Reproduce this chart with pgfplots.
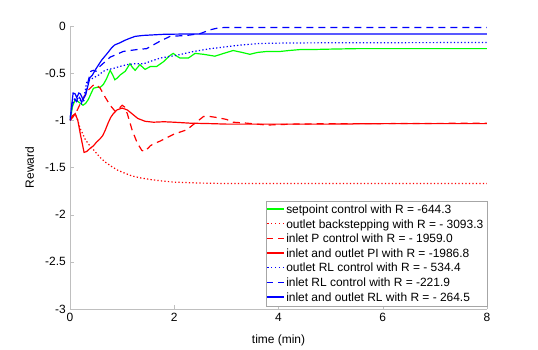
\documentclass[border=0pt]{standalone}
\usepackage{pgfplots}
\pgfplotsset{compat=1.18}
\usepackage{fontspec}
\setmainfont{Liberation Sans}
\definecolor{mgreen}{rgb}{0,1,0}
\definecolor{mred}{rgb}{1,0,0}
\definecolor{mblue}{rgb}{0,0,1}
\newcommand{\lsolid}[1]{\textcolor{#1}{\rule{17bp}{1.2pt}}}
\newcommand{\ldash}[1]{\textcolor{#1}{\rule{6bp}{1.2pt}\hspace{5bp}\rule{6bp}{1.2pt}}}
\newcommand{\ldot}[1]{\textcolor{#1}{\rule{1.3bp}{1.2pt}\hspace{2.6bp}\rule{1.3bp}{1.2pt}\hspace{2.6bp}\rule{1.3bp}{1.2pt}\hspace{2.6bp}\rule{1.3bp}{1.2pt}\hspace{2.6bp}\rule{1.3bp}{1.2pt}}}
\begin{document}
\fontsize{12}{14}\selectfont
\begin{tikzpicture}
\path (-70bp,-39bp) rectangle (468bp,309bp);
\begin{axis}[
  scale only axis, width=417bp, height=283bp,
  at={(0,0)}, anchor=south west,
  xmin=0, xmax=8, ymin=-3, ymax=0,
  xtick={0,2,4,6,8}, ytick={-3,-2.5,-2,-1.5,-1,-0.5,0},
  axis lines=left, axis line style={-, draw=black!25, line width=0.6pt},
  tick style={draw=black!25}, tick align=inside, major tick length=4bp,
  /pgf/number format/assume math mode=true,
  xlabel={time (min)}, ylabel={Reward},
  xlabel style={yshift=-5bp},
  ylabel style={yshift=3bp},
  legend cell align=left,
  legend style={at={(1,0.008)}, anchor=south east,
    draw=black!35, inner sep=1.5bp, row sep=0.2bp},
]
\addlegendimage{legend image code/.code={\node[inner sep=0pt,anchor=west] at (0bp,0bp) {\lsolid{mgreen}};}}
\addlegendentry{setpoint control with R = -644.3}
\addlegendimage{legend image code/.code={\node[inner sep=0pt,anchor=west] at (0bp,0bp) {\ldot{mred}};}}
\addlegendentry{outlet backstepping with R = - 3093.3}
\addlegendimage{legend image code/.code={\node[inner sep=0pt,anchor=west] at (0bp,0bp) {\ldash{mred}};}}
\addlegendentry{inlet P control with R = - 1959.0}
\addlegendimage{legend image code/.code={\node[inner sep=0pt,anchor=west] at (0bp,0bp) {\lsolid{mred}};}}
\addlegendentry{inlet and outlet PI with R = -1986.8}
\addlegendimage{legend image code/.code={\node[inner sep=0pt,anchor=west] at (0bp,0bp) {\ldot{mblue}};}}
\addlegendentry{outlet RL control with R = - 534.4}
\addlegendimage{legend image code/.code={\node[inner sep=0pt,anchor=west] at (0bp,0bp) {\ldash{mblue}};}}
\addlegendentry{inlet RL control with R = -221.9}
\addlegendimage{legend image code/.code={\node[inner sep=0pt,anchor=west] at (0bp,0bp) {\lsolid{mblue}};}}
\addlegendentry{inlet and outlet RL with R = - 264.5}
\addplot[forget plot, draw=mgreen, line width=1.2pt] coordinates {(0,-1)(0.05,-0.85)(0.1,-0.78)(0.15,-0.8)(0.2,-0.82)(0.25,-0.84)(0.3,-0.82)(0.35,-0.78)(0.45,-0.66)(0.52,-0.65)(0.58,-0.65)(0.64,-0.62)(0.7,-0.56)(0.77,-0.47)(0.82,-0.52)(0.86,-0.57)(0.91,-0.55)(0.96,-0.52)(1.06,-0.48)(1.15,-0.40)(1.2,-0.44)(1.25,-0.47)(1.34,-0.41)(1.44,-0.46)(1.54,-0.43)(1.66,-0.43)(1.79,-0.38)(1.9,-0.32)(1.98,-0.29)(2.05,-0.32)(2.11,-0.34)(2.27,-0.34)(2.4,-0.29)(2.56,-0.30)(2.78,-0.32)(2.95,-0.29)(3.13,-0.26)(3.3,-0.28)(3.45,-0.30)(3.6,-0.28)(3.78,-0.27)(4.03,-0.27)(4.2,-0.26)(4.41,-0.25)(4.6,-0.25)(5,-0.245)(5.5,-0.24)(6,-0.24)(7,-0.24)(8,-0.24)};
\addplot[forget plot, draw=mred, line width=1.2pt, dash pattern=on 1.3bp off 2.2bp] coordinates {(0,-1)(0.05,-0.96)(0.1,-0.93)(0.15,-1.0)(0.19,-1.08)(0.25,-1.15)(0.29,-1.2)(0.38,-1.27)(0.48,-1.33)(0.57,-1.39)(0.67,-1.44)(0.8,-1.49)(0.92,-1.53)(1.05,-1.56)(1.19,-1.59)(1.35,-1.61)(1.57,-1.63)(1.8,-1.645)(2.0,-1.655)(2.5,-1.665)(3,-1.67)(4,-1.67)(6,-1.67)(8,-1.67)};
\addplot[forget plot, draw=mred, line width=1.2pt, dash pattern=on 7bp off 5bp] coordinates {(0,-1)(0.05,-0.95)(0.1,-0.93)(0.15,-0.88)(0.2,-0.82)(0.28,-0.74)(0.35,-0.68)(0.44,-0.63)(0.5,-0.62)(0.58,-0.66)(0.67,-0.75)(0.77,-0.84)(0.86,-0.9)(0.93,-0.88)(1.0,-0.84)(1.05,-0.86)(1.1,-0.93)(1.19,-1.1)(1.29,-1.24)(1.38,-1.32)(1.44,-1.33)(1.54,-1.27)(1.6,-1.25)(1.73,-1.22)(1.98,-1.15)(2.24,-1.1)(2.4,-1.03)(2.56,-0.96)(2.69,-0.96)(2.82,-0.97)(3.0,-0.99)(3.13,-1.02)(3.39,-1.03)(3.78,-1.05)(4.28,-1.04)(5,-1.035)(6,-1.035)(8,-1.03)};
\addplot[forget plot, draw=mred, line width=1.2pt] coordinates {(0,-1)(0.05,-0.97)(0.1,-0.93)(0.15,-1.0)(0.2,-1.15)(0.27,-1.34)(0.32,-1.33)(0.38,-1.3)(0.45,-1.27)(0.51,-1.23)(0.57,-1.2)(0.63,-1.16)(0.68,-1.1)(0.73,-1.03)(0.78,-0.97)(0.83,-0.93)(0.9,-0.89)(1.0,-0.87)(1.1,-0.89)(1.19,-0.93)(1.3,-0.98)(1.44,-1.01)(1.6,-1.02)(1.8,-1.015)(2.0,-1.02)(2.3,-1.03)(2.7,-1.035)(3,-1.04)(4,-1.04)(5,-1.04)(6,-1.035)(7,-1.035)(8,-1.035)};
\addplot[forget plot, draw=mblue, line width=1.2pt, dash pattern=on 1.3bp off 2.2bp] coordinates {(0,-1)(0.04,-0.85)(0.08,-0.78)(0.13,-0.8)(0.18,-0.76)(0.22,-0.82)(0.27,-0.75)(0.32,-0.6)(0.38,-0.57)(0.45,-0.55)(0.55,-0.52)(0.64,-0.48)(0.73,-0.46)(0.83,-0.45)(0.95,-0.43)(1.09,-0.41)(1.25,-0.4)(1.41,-0.4)(1.57,-0.37)(1.73,-0.34)(2.05,-0.31)(2.37,-0.27)(2.7,-0.24)(3.0,-0.22)(3.3,-0.2)(3.65,-0.185)(4.2,-0.18)(5,-0.178)(6,-0.177)(8,-0.175)};
\addplot[forget plot, draw=mblue, line width=1.2pt, dash pattern=on 7bp off 5bp] coordinates {(0,-1)(0.04,-0.82)(0.08,-0.76)(0.12,-0.8)(0.17,-0.74)(0.22,-0.8)(0.27,-0.79)(0.3,-0.72)(0.35,-0.58)(0.4,-0.48)(0.45,-0.47)(0.5,-0.48)(0.55,-0.44)(0.65,-0.39)(0.77,-0.33)(0.9,-0.3)(1.02,-0.27)(1.15,-0.26)(1.28,-0.25)(1.47,-0.24)(1.6,-0.2)(1.73,-0.16)(1.92,-0.11)(2.24,-0.1)(2.5,-0.08)(2.69,-0.04)(2.85,-0.02)(3,-0.015)(4,-0.015)(8,-0.015)};
\addplot[forget plot, draw=mblue, line width=1.2pt] coordinates {(0,-1)(0.03,-0.85)(0.06,-0.71)(0.1,-0.72)(0.13,-0.76)(0.17,-0.71)(0.2,-0.72)(0.25,-0.78)(0.3,-0.73)(0.35,-0.62)(0.38,-0.55)(0.43,-0.52)(0.48,-0.47)(0.55,-0.41)(0.61,-0.36)(0.67,-0.32)(0.73,-0.28)(0.8,-0.23)(0.86,-0.2)(0.95,-0.18)(1.06,-0.15)(1.15,-0.13)(1.25,-0.11)(1.4,-0.1)(1.57,-0.095)(1.8,-0.088)(2.2,-0.085)(3,-0.085)(8,-0.085)};
\end{axis}
\end{tikzpicture}
\end{document}
